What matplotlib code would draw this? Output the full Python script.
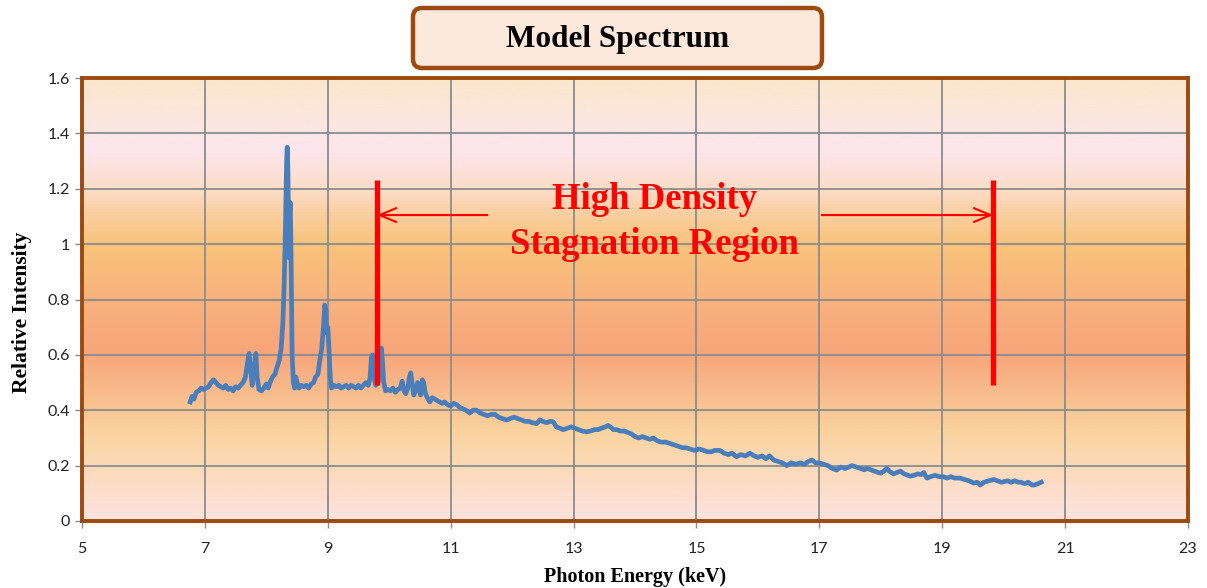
import matplotlib.pyplot as plt
import numpy as np
from matplotlib.colors import LinearSegmentedColormap
from matplotlib.patches import FancyBboxPatch
from matplotlib.transforms import IdentityTransform

energy_kev = [
    6.76, 6.79, 6.82, 6.86, 6.90, 6.94, 6.98, 7.02, 7.06, 7.10, 7.14, 7.18, 7.22, 7.26, 7.30,
    7.34, 7.38, 7.42, 7.46, 7.50, 7.54, 7.58, 7.62, 7.66, 7.70, 7.72, 7.74, 7.77, 7.80, 7.83,
    7.85, 7.88, 7.92, 7.96, 8.00, 8.03, 8.06, 8.10, 8.14, 8.18, 8.21, 8.24, 8.27, 8.29, 8.31,
    8.33, 8.34, 8.35, 8.36, 8.37, 8.38, 8.39, 8.40, 8.41, 8.42, 8.44, 8.46, 8.48, 8.50, 8.53,
    8.57, 8.61, 8.65, 8.69, 8.73, 8.77, 8.80, 8.84, 8.87, 8.90, 8.93, 8.95, 8.97, 8.98, 9.00,
    9.02, 9.04, 9.06, 9.10, 9.14, 9.18, 9.22, 9.26, 9.30, 9.34, 9.38, 9.42, 9.46, 9.50, 9.54,
    9.58, 9.62, 9.66, 9.69, 9.71, 9.73, 9.75, 9.78, 9.82, 9.85, 9.87, 9.89, 9.91, 9.94, 9.98,
    10.02, 10.06, 10.10, 10.14, 10.18, 10.21, 10.24, 10.27, 10.30, 10.33, 10.35, 10.37, 10.40,
    10.43, 10.46, 10.48, 10.51, 10.54, 10.56, 10.59, 10.62, 10.66, 10.70, 10.74, 10.78, 10.82,
    10.86, 10.90, 10.95, 11.00, 11.05, 11.10, 11.15, 11.20, 11.25, 11.31, 11.36, 11.42, 11.48,
    11.54, 11.60, 11.66, 11.72, 11.78, 11.84, 11.91, 11.97, 12.03, 12.09, 12.15, 12.21, 12.27,
    12.33, 12.40, 12.45, 12.50, 12.56, 12.62, 12.67, 12.72, 12.78, 12.83, 12.90, 12.96, 13.02,
    13.08, 13.14, 13.21, 13.28, 13.34, 13.40, 13.46, 13.52, 13.56, 13.60, 13.65, 13.70, 13.76,
    13.82, 13.88, 13.94, 14.00, 14.06, 14.12, 14.18, 14.24, 14.30, 14.36, 14.42, 14.50, 14.57,
    14.64, 14.70, 14.77, 14.84, 14.90, 14.97, 15.04, 15.11, 15.18, 15.24, 15.30, 15.38, 15.45,
    15.52, 15.58, 15.65, 15.72, 15.80, 15.87, 15.94, 16.00, 16.07, 16.13, 16.19, 16.26, 16.33,
    16.40, 16.47, 16.54, 16.62, 16.69, 16.76, 16.82, 16.88, 16.94, 17.00, 17.07, 17.14, 17.21,
    17.28, 17.35, 17.42, 17.48, 17.53, 17.60, 17.67, 17.73, 17.78, 17.84, 17.90, 17.96, 18.00,
    18.05, 18.10, 18.15, 18.21, 18.26, 18.32, 18.38, 18.44, 18.48, 18.54, 18.60, 18.66, 18.70,
    18.75, 18.81, 18.88, 18.95, 19.02, 19.08, 19.14, 19.20, 19.29, 19.36, 19.44, 19.51, 19.57,
    19.62, 19.68, 19.75, 19.84, 19.90, 19.96, 20.06, 20.12, 20.18, 20.24, 20.28, 20.34, 20.40,
    20.46, 20.50, 20.56, 20.61,
]
intensity = [
    0.43, 0.45, 0.44, 0.465, 0.47, 0.48, 0.475, 0.48, 0.485, 0.50, 0.51, 0.50, 0.49, 0.485, 0.48,
    0.49, 0.475, 0.48, 0.47, 0.485, 0.48, 0.49, 0.50, 0.52, 0.58, 0.605, 0.56, 0.49, 0.55, 0.605,
    0.52, 0.475, 0.47, 0.48, 0.495, 0.48, 0.50, 0.52, 0.53, 0.56, 0.58, 0.62, 0.72, 0.85, 1.05,
    1.30, 1.35, 1.28, 1.10, 0.95, 1.12, 1.15, 1.00, 0.80, 0.60, 0.50, 0.48, 0.52, 0.50, 0.48,
    0.49, 0.485, 0.49, 0.48, 0.495, 0.50, 0.52, 0.53, 0.58, 0.62, 0.70, 0.78, 0.76, 0.68, 0.70,
    0.62, 0.52, 0.48, 0.49, 0.485, 0.49, 0.48, 0.485, 0.49, 0.48, 0.49, 0.485, 0.48, 0.49, 0.48,
    0.49, 0.50, 0.49, 0.52, 0.59, 0.60, 0.52, 0.49, 0.50, 0.57, 0.625, 0.58, 0.50, 0.47, 0.475,
    0.47, 0.48, 0.465, 0.475, 0.48, 0.505, 0.47, 0.46, 0.48, 0.52, 0.535, 0.50, 0.455,
    0.47, 0.50, 0.49, 0.455, 0.51, 0.50, 0.46, 0.445, 0.43, 0.445, 0.44, 0.435, 0.43,
    0.425, 0.43, 0.42, 0.415, 0.425, 0.42, 0.41, 0.405, 0.40, 0.39, 0.40, 0.40, 0.39,
    0.385, 0.38, 0.385, 0.385, 0.375, 0.37, 0.365, 0.37, 0.375, 0.37, 0.365, 0.36, 0.36,
    0.355, 0.352, 0.365, 0.36, 0.355, 0.36, 0.358, 0.34, 0.335, 0.33, 0.335, 0.34, 0.335,
    0.33, 0.325, 0.322, 0.325, 0.33, 0.33, 0.336, 0.34, 0.345, 0.34, 0.33, 0.33, 0.325,
    0.325, 0.32, 0.315, 0.305, 0.30, 0.305, 0.30, 0.295, 0.30, 0.29, 0.285, 0.285, 0.28,
    0.275, 0.27, 0.265, 0.264, 0.26, 0.255, 0.26, 0.256, 0.25, 0.25, 0.255, 0.255, 0.245,
    0.24, 0.245, 0.232, 0.24, 0.235, 0.245, 0.235, 0.23, 0.235, 0.225, 0.235, 0.22, 0.215,
    0.21, 0.20, 0.21, 0.205, 0.21, 0.205, 0.215, 0.22, 0.21, 0.21, 0.205, 0.20, 0.19,
    0.184, 0.195, 0.19, 0.195, 0.20, 0.195, 0.19, 0.185, 0.19, 0.185, 0.18, 0.175, 0.173,
    0.18, 0.19, 0.178, 0.17, 0.175, 0.18, 0.17, 0.165, 0.162, 0.165, 0.17, 0.168, 0.175,
    0.155, 0.16, 0.165, 0.16, 0.16, 0.155, 0.16, 0.155, 0.155, 0.15, 0.145, 0.137, 0.14,
    0.13, 0.14, 0.145, 0.15, 0.145, 0.14, 0.145, 0.14, 0.145, 0.14, 0.14, 0.135, 0.14,
    0.13, 0.13, 0.135, 0.14,
]

x_ticks = [5, 7, 9, 11, 13, 15, 17, 19, 21, 23]
y_ticks = [0, 0.2, 0.4, 0.6, 0.8, 1.0, 1.2, 1.4, 1.6]
y_tick_labels = ["0", "0.2", "0.4", "0.6", "0.8", "1", "1.2", "1.4", "1.6"]

# Region de estancamiento (limites y flechas)
region_edges = [9.80, 19.83]
region_line_span = (0.49, 1.23)
arrow_y = 1.105
arrow_tails = [11.60, 17.04]

# Colores del fondo degradado (posicion relativa en y, color)
bg_stops = [
    (0.00, "#FDE3E1"),
    (0.12, "#FCDAB9"),
    (0.20, "#FAD39E"),
    (0.30, "#F8B98A"),
    (0.38, "#F7A57A"),
    (0.50, "#F9B27E"),
    (0.625, "#F8C37A"),
    (0.70, "#FAD0A4"),
    (0.75, "#FCDDC8"),
    (0.84, "#FDE6EE"),
    (0.90, "#FCE6E2"),
    (1.00, "#FBE6CB"),
]

serif = "Liberation Serif"
tick_font = "Lato"
frame_color = "#9C4A10"

fig = plt.figure(figsize=(12.07, 5.88), dpi=100)
ax = fig.add_axes([82 / 1207, 1 - 521 / 588, (1188 - 82) / 1207, (521 - 78) / 588])

# Fondo degradado
cmap = LinearSegmentedColormap.from_list("bg", bg_stops)
grad = np.linspace(0, 1, 400).reshape(-1, 1)
ax.imshow(grad, extent=[5, 23, 0, 1.6], origin="lower", aspect="auto", cmap=cmap, zorder=0)

ax.set_xlim(5, 23)
ax.set_ylim(0, 1.6)
ax.set_axisbelow(True)
ax.grid(True, color="#8C8C8C", linewidth=1.3)

ax.plot(energy_kev, intensity, color="#4A7EBB", linewidth=3.4, zorder=3)

# Lineas rojas y flechas
for xe in region_edges:
    ax.plot([xe, xe], region_line_span, color="#FF0000", linewidth=3.8, zorder=4,
            solid_capstyle="butt")
for xe, xt in zip(region_edges, arrow_tails):
    ax.annotate("", xy=(xe, arrow_y), xytext=(xt, arrow_y),
                arrowprops=dict(arrowstyle="->,head_length=1.2,head_width=0.5",
                                color="#FF0000", lw=1.5, shrinkA=0, shrinkB=0),
                zorder=4)
ax.text(14.32, 1.08, "High Density\nStagnation Region", ha="center", va="center",
        fontsize=26.5, fontweight="bold", family=serif, color="#FF0000",
        linespacing=1.38, zorder=5)

ax.set_xticks(x_ticks)
ax.set_yticks(y_ticks)
ax.set_yticklabels(y_tick_labels)
ax.tick_params(direction="out", length=5, width=1, color="#8C8C8C", labelsize=11.5,
               labelcolor="#222222")
ax.tick_params(axis="x", pad=10)
for lab in ax.get_xticklabels() + ax.get_yticklabels():
    lab.set_family(tick_font)

for sp in ax.spines.values():
    sp.set_color(frame_color)
    sp.set_linewidth(2.8)

ax.set_xlabel("Photon Energy (keV)", family=serif, fontweight="bold", fontsize=14.5)
ax.xaxis.set_label_coords(0.5, -0.104)
ax.set_ylabel("Relative Intensity", family=serif, fontweight="bold", fontsize=15.5)
ax.yaxis.set_label_coords(-0.045, 0.47)

# Caja del titulo (en pixeles)
title_box = FancyBboxPatch((413, 588 - 68), 409, 60,
                           boxstyle="round,pad=0,rounding_size=9",
                           facecolor="#FDE9DC", edgecolor=frame_color, linewidth=3.2,
                           transform=IdentityTransform(), figure=fig)
fig.patches.append(title_box)
fig.text(617.5 / 1207, 1 - 40 / 588, "Model Spectrum", ha="center", va="center",
         fontsize=22.5, fontweight="bold", family=serif, color="black")

fig.savefig("out.png", dpi=100)
